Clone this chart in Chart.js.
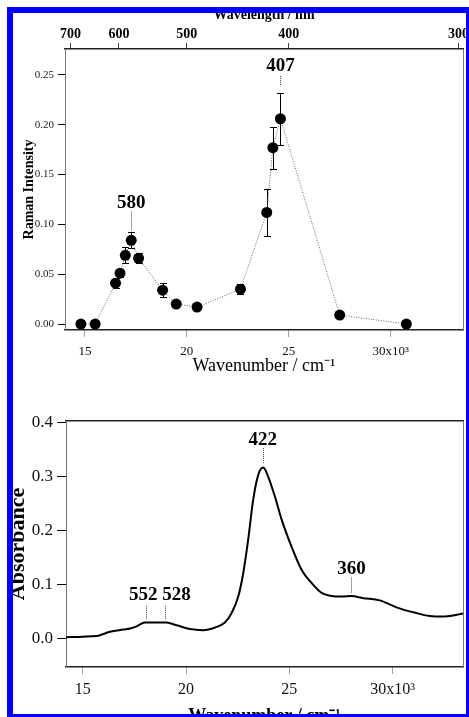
<!DOCTYPE html>
<html><head><meta charset="utf-8">
<script src="https://cdn.jsdelivr.net/npm/chart.js@4/dist/chart.umd.min.js"></script>
<style>
html,body{margin:0;padding:0;background:#fff;overflow:hidden;width:469px;height:717px;}
#c1{position:absolute;left:0;top:0;}
#c2{position:absolute;left:0;top:380px;}
#frame{position:absolute;left:7px;top:7px;width:465px;height:713px;border:6px solid #0000fa;box-sizing:border-box;pointer-events:none;}
</style></head><body>
<canvas id="c1" width="469" height="380"></canvas>
<canvas id="c2" width="469" height="360"></canvas>
<div id="frame"></div>
<script>
// ---- Raman excitation profile (top) ----
const ramanWavenumber = [14.8, 15.5, 16.5, 16.72, 16.98, 17.27, 17.63, 18.81, 19.48, 20.5, 22.63, 23.92, 24.22, 24.59, 27.5, 30.77];
const ramanIntensity  = [0.000, 0.000, 0.041, 0.051, 0.069, 0.084, 0.066, 0.034, 0.020, 0.017, 0.035, 0.112, 0.177, 0.206, 0.009, 0.000];
const ramanError      = [0, 0, 0.005, 0.004, 0.008, 0.008, 0.005, 0.007, 0.003, 0.002, 0.005, 0.024, 0.021, 0.026, 0.002, 0];
const wavenumberTicks = [15, 20, 25, 30];
const wavelengthTicks = [700, 600, 500, 400, 300];
const ramanYTicks = [0, 0.05, 0.10, 0.15, 0.20, 0.25];
const ramanPeakLabels = ['580', '407'];
const ramanPeakX = [17.27, 24.59];

// ---- Absorption spectrum (bottom) ----
const absWavenumber = [14.19, 15.0, 15.68, 16.0, 16.32, 16.96, 17.3, 17.61, 18.01, 18.58, 19.06, 19.55, 20.19, 20.83, 21.41, 21.88, 22.2, 22.53, 22.77, 23.01, 23.25, 23.5, 23.74, 23.98, 24.3, 24.63, 25.11, 25.6, 26.08, 26.56, 27.05, 27.53, 28.01, 28.58, 29.38, 30.19, 31.0, 31.8, 32.45, 32.93, 33.41];
const absorbance    = [0.003, 0.004, 0.005, 0.009, 0.013, 0.017, 0.019, 0.023, 0.030, 0.030, 0.030, 0.025, 0.018, 0.016, 0.021, 0.030, 0.047, 0.078, 0.121, 0.183, 0.256, 0.303, 0.316, 0.299, 0.263, 0.220, 0.170, 0.127, 0.103, 0.085, 0.079, 0.078, 0.079, 0.075, 0.071, 0.058, 0.049, 0.042, 0.041, 0.043, 0.047];
const absYTicks = [0, 0.1, 0.2, 0.3, 0.4];
const absPeakLabels = ['422', '552', '528', '360'];
const absPeakX = [23.72, 18.06, 19.0, 28.01];

Chart.defaults.font.family = '"Liberation Serif", "Times New Roman", serif';
Chart.defaults.color = '#000';

// label placement (data units) for annotation text and its short leader line
const ramanAnnot = ramanPeakLabels.map((t, i) => ({text: t, x: ramanPeakX[i], xText: ramanPeakX[i], yText: [0.121, 0.259][i], y1: [0.113, 0.249][i], y2: [0.094, 0.239][i]}));
const absAnnot = absPeakLabels.map((t, i) => ({text: t, x: absPeakX[i], xText: [23.72, 17.93, 19.54, 28.01][i], yText: [0.367, 0.081, 0.081, 0.129][i], y1: [0.352, 0.061, 0.061, 0.113][i], y2: [0.325, 0.035, 0.035, 0.085][i]}));

function annotPlugin(list, size) {
  return {
    id: 'annot',
    afterDatasetsDraw(chart) {
      const {ctx, scales: {x, y}} = chart;
      ctx.save();
      ctx.font = 'bold ' + size + 'px "Liberation Serif", serif';
      ctx.textAlign = 'center';
      ctx.textBaseline = 'middle';
      ctx.fillStyle = '#000';
      list.forEach(a => {
        const px = x.getPixelForValue(a.x);
        ctx.fillText(a.text, x.getPixelForValue(a.xText), y.getPixelForValue(a.yText));
        ctx.strokeStyle = '#444';
        ctx.lineWidth = 1;
        ctx.setLineDash([1, 1]);
        ctx.beginPath();
        ctx.moveTo(Math.round(px) + 0.5, y.getPixelForValue(a.y1));
        ctx.lineTo(Math.round(px) + 0.5, y.getPixelForValue(a.y2));
        ctx.stroke();
      });
      ctx.restore();
    }
  };
}

const errorBarPlugin = {
  id: 'errbars',
  beforeDatasetsDraw(chart) {
    const {ctx, scales: {x, y}} = chart;
    ctx.save();
    ctx.strokeStyle = '#000';
    ctx.lineWidth = 1;
    ramanWavenumber.forEach((w, i) => {
      const e = ramanError[i];
      if (!e) return;
      const px = Math.round(x.getPixelForValue(w)) + 0.5;
      const yt = Math.round(y.getPixelForValue(ramanIntensity[i] + e)) + 0.5;
      const yb = Math.round(y.getPixelForValue(ramanIntensity[i] - e)) + 0.5;
      ctx.beginPath();
      ctx.moveTo(px, yt); ctx.lineTo(px, yb);
      ctx.moveTo(px - 3.5, yt); ctx.lineTo(px + 3.5, yt);
      ctx.moveTo(px - 3.5, yb); ctx.lineTo(px + 3.5, yb);
      ctx.stroke();
    });
    ctx.restore();
  }
};

function fixSize(prop, v) {
  return s => { s[prop] = v; s.paddingLeft = 0; s.paddingRight = 0; s.paddingTop = 0; s.paddingBottom = 0; };
}
function setTicks(arr) { return s => { s.ticks = arr.map(v => ({value: v})); }; }

const xLabel = v => (v === 30 ? '30x10³' : String(v));

// ---------- Top chart ----------
new Chart(document.getElementById('c1'), {
  type: 'line',
  data: {
    datasets: [{
      data: ramanWavenumber.map((w, i) => ({x: w, y: ramanIntensity[i]})),
      borderColor: '#666',
      borderWidth: 1,
      borderDash: [1, 1.5],
      pointRadius: 5.5,
      pointBackgroundColor: '#000',
      pointBorderColor: '#000',
      pointBorderWidth: 0,
      tension: 0
    }]
  },
  options: {
    responsive: false, animation: false, devicePixelRatio: 1,
    layout: {padding: 0},
    plugins: {legend: {display: false}, tooltip: {enabled: false}},
    scales: {
      x: {
        type: 'linear', position: 'bottom', min: 14.02, max: 33.55,
        afterBuildTicks: setTicks(wavenumberTicks),
        afterFit: fixSize('height', 50),
        ticks: {callback: xLabel, font: {size: 13}, padding: 7, maxRotation: 0, autoSkip: false, color: '#111'},
        grid: {display: true, drawOnChartArea: false, drawTicks: true, tickLength: 7, tickColor: '#444', tickBorderDash: [1, 1], tickWidth: 1},
        border: {display: true, color: '#222', width: 1.5},
        title: {display: true, text: 'Wavenumber / cm⁻¹', font: {size: 18}, padding: {top: 0, bottom: 3}, color: '#000'}
      },
      x2: {
        type: 'linear', position: 'top', axis: 'x', min: 14.02, max: 33.55,
        afterBuildTicks: s => { s.ticks = wavelengthTicks.map(nm => ({value: 1e4 / nm})); },
        afterFit: fixSize('height', 49),
        ticks: {callback: v => String(Math.round(1e4 / v)), font: {size: 14, weight: 'bold'}, padding: 0, maxRotation: 0, autoSkip: false},
        grid: {display: true, drawOnChartArea: false, drawTicks: true, tickLength: 6, tickColor: '#444', tickWidth: 1},
        border: {display: true, color: '#222', width: 1.5},
        title: {display: true, text: 'Wavelength / nm', font: {size: 14, weight: 'bold'}, padding: {top: 7, bottom: 0}}
      },
      y: {
        type: 'linear', position: 'left', min: -0.006, max: 0.276,
        afterBuildTicks: setTicks(ramanYTicks),
        afterFit: fixSize('width', 65),
        ticks: {callback: v => v.toFixed(2), font: {size: 11}, padding: 4, color: '#222'},
        grid: {display: true, drawOnChartArea: false, drawTicks: true, tickLength: 7, tickColor: '#000', tickWidth: 1},
        border: {display: true, color: '#777', width: 1, dash: [1, 1]},
        title: {display: true, text: 'Raman Intensity', font: {size: 14, weight: 'bold'}, padding: {top: 21, bottom: 0}}
      },
      y2: {
        type: 'linear', position: 'right', axis: 'y', min: -0.006, max: 0.276,
        afterFit: fixSize('width', 6),
        ticks: {display: false},
        grid: {display: false},
        border: {display: true, color: '#777', width: 1, dash: [1, 1]}
      }
    }
  },
  plugins: [errorBarPlugin, annotPlugin(ramanAnnot, 19)]
});

// ---------- Bottom chart ----------
new Chart(document.getElementById('c2'), {
  type: 'line',
  data: {
    datasets: [{
      data: absWavenumber.map((w, i) => ({x: w, y: absorbance[i]})),
      borderColor: '#000',
      borderWidth: 2,
      pointRadius: 0,
      tension: 0.4,
      cubicInterpolationMode: 'monotone'
    }]
  },
  options: {
    responsive: false, animation: false, devicePixelRatio: 1,
    layout: {padding: 0},
    plugins: {legend: {display: false}, tooltip: {enabled: false}},
    scales: {
      x: {
        type: 'linear', position: 'bottom', min: 14.19, max: 33.41,
        afterBuildTicks: setTicks(wavenumberTicks),
        afterFit: fixSize('height', 73),
        ticks: {callback: xLabel, font: {size: 16}, padding: 6, maxRotation: 0, autoSkip: false, color: '#111'},
        grid: {display: true, drawOnChartArea: false, drawTicks: true, tickLength: 7, tickColor: '#444', tickBorderDash: [1, 1], tickWidth: 1},
        border: {display: true, color: '#222', width: 1.5},
        title: {display: true, text: 'Wavenumber / cm⁻¹', font: {size: 18, weight: 'bold'}, padding: {top: 0, bottom: 13}}
      },
      x2: {
        type: 'linear', position: 'top', axis: 'x', min: 14.19, max: 33.41,
        afterFit: fixSize('height', 41),
        ticks: {display: false},
        grid: {display: false},
        border: {display: true, color: '#222', width: 1.5}
      },
      y: {
        type: 'linear', position: 'left', min: -0.052, max: 0.402,
        afterBuildTicks: setTicks(absYTicks),
        afterFit: fixSize('width', 66),
        ticks: {callback: v => v.toFixed(1), font: {size: 17}, padding: 4, color: '#111'},
        grid: {display: true, drawOnChartArea: false, drawTicks: true, tickLength: 9, tickColor: '#000', tickWidth: 1},
        border: {display: true, color: '#777', width: 1, dash: [1, 1]},
        title: {display: true, text: 'Absorbance', font: {size: 22, weight: 'bold'}, padding: {top: 5, bottom: 0}}
      },
      y2: {
        type: 'linear', position: 'right', axis: 'y', min: -0.052, max: 0.402,
        afterFit: fixSize('width', 6),
        ticks: {display: false},
        grid: {display: false},
        border: {display: true, color: '#777', width: 1, dash: [1, 1]}
      }
    }
  },
  plugins: [annotPlugin(absAnnot, 19)]
});
</script>
</body></html>
